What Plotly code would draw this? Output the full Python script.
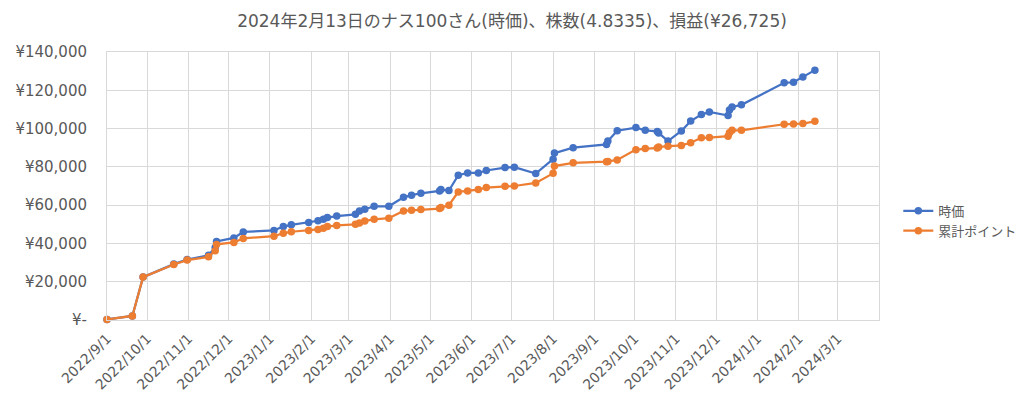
import plotly.graph_objects as go

title_text = "2024年2月13日のナス100さん(時価)、株数(4.8335)、損益(¥26,725)"

dates = [
    "2022-09-01", "2022-09-20", "2022-09-28", "2022-10-21", "2022-10-31",
    "2022-11-16", "2022-11-21", "2022-11-22", "2022-12-05", "2022-12-12",
    "2023-01-04", "2023-01-11", "2023-01-17", "2023-01-30", "2023-02-06",
    "2023-02-10", "2023-02-13", "2023-02-20", "2023-03-06", "2023-03-09",
    "2023-03-13", "2023-03-20", "2023-03-31", "2023-04-11", "2023-04-17",
    "2023-04-24", "2023-05-08", "2023-05-09", "2023-05-15", "2023-05-22",
    "2023-05-29", "2023-06-06", "2023-06-12", "2023-06-26", "2023-07-03",
    "2023-07-19", "2023-08-01", "2023-08-02", "2023-08-16", "2023-09-10",
    "2023-09-11", "2023-09-18", "2023-10-02", "2023-10-09", "2023-10-18",
    "2023-10-19", "2023-10-26", "2023-11-05", "2023-11-12", "2023-11-20",
    "2023-11-26", "2023-12-10", "2023-12-11", "2023-12-13", "2023-12-20",
    "2024-01-21", "2024-01-28", "2024-02-04", "2024-02-13",
]

jika = [
    300, 2100, 22400, 29200, 31600,
    33800, 37900, 41000, 42900, 46000,
    46800, 48800, 49700, 50900, 51850,
    52600, 53500, 54300, 55200, 57000,
    57850, 59400, 59400, 64100, 65200,
    66200, 67400, 68150, 67600, 75600,
    76800, 76800, 78100, 79600, 79800,
    76500, 84000, 87200, 90000, 91700,
    93500, 98900, 100500, 99100, 98500,
    97700, 93450, 98750, 103900, 107300,
    108700, 106800, 109700, 111300, 112400,
    123900, 124200, 126950, 130525,
]

ruikei = [
    300, 2100, 22400, 29000, 31300,
    33000, 36200, 39500, 40500, 42600,
    43800, 45300, 46100, 46800, 47300,
    47900, 48800, 49400, 50000, 50700,
    51750, 52600, 53200, 57000, 57300,
    57700, 58200, 58750, 59950, 66900,
    67400, 68150, 69200, 69900, 70000,
    71600, 76600, 80400, 82100, 82700,
    82800, 83600, 89000, 89550, 89900,
    90400, 90800, 91200, 92600, 95200,
    95300, 96050, 97800, 99100, 99100,
    102250, 102400, 102600, 103800,
]

series_names = ["時価", "累計ポイント"]
series_colors = ["#4472C4", "#ED7D31"]

x_tick_vals = [
    "2022-09-01", "2022-10-01", "2022-11-01", "2022-12-01", "2023-01-01",
    "2023-02-01", "2023-03-01", "2023-04-01", "2023-05-01", "2023-06-01",
    "2023-07-01", "2023-08-01", "2023-09-01", "2023-10-01", "2023-11-01",
    "2023-12-01", "2024-01-01", "2024-02-01", "2024-03-01",
]
x_tick_text = [
    "2022/9/1", "2022/10/1", "2022/11/1", "2022/12/1", "2023/1/1",
    "2023/2/1", "2023/3/1", "2023/4/1", "2023/5/1", "2023/6/1",
    "2023/7/1", "2023/8/1", "2023/9/1", "2023/10/1", "2023/11/1",
    "2023/12/1", "2024/1/1", "2024/2/1", "2024/3/1",
]

y_tick_vals = [0, 20000, 40000, 60000, 80000, 100000, 120000, 140000]
y_tick_text = ["¥-", "¥20,000", "¥40,000", "¥60,000", "¥80,000",
               "¥100,000", "¥120,000", "¥140,000"]

FONT = "DejaVu Sans, Noto Sans CJK JP"
TXT = "#595959"
GRID = "#D9D9D9"

fig = go.Figure()
for name, vals, col in zip(series_names, [jika, ruikei], series_colors):
    fig.add_trace(go.Scatter(
        x=dates, y=vals, name=name, mode="lines+markers",
        line=dict(color=col, width=2.25),
        marker=dict(color=col, size=7.5),
        cliponaxis=False,
    ))

fig.update_layout(
    width=1024, height=411,
    margin=dict(l=107, r=145, t=52, b=91, autoexpand=False),
    paper_bgcolor="white", plot_bgcolor="white",
    font=dict(family=FONT, color=TXT, size=13),
    title=dict(text=title_text, x=0.5, xref="container", y=0.95, yref="container",
               xanchor="center", yanchor="middle",
               font=dict(family=FONT, size=17, color=TXT)),
    legend=dict(x=1.025, y=0.37, xanchor="left", yanchor="middle",
                font=dict(family="Noto Sans CJK JP", size=13, color=TXT),
                itemwidth=30),
    showlegend=True,
)

fig.update_xaxes(
    type="date",
    range=["2022-09-01", "2024-04-01"],
    tickmode="array", tickvals=x_tick_vals, ticktext=x_tick_text,
    tickangle=-45,
    showgrid=True, gridcolor=GRID, gridwidth=1,
    showline=True, linecolor=GRID, linewidth=1, mirror=True,
    ticks="", zeroline=False,
    ticklabelstandoff=4,
    tickfont=dict(family=FONT, size=14, color=TXT),
)
fig.update_yaxes(
    range=[0, 140000],
    tickmode="array", tickvals=y_tick_vals, ticktext=y_tick_text,
    showgrid=True, gridcolor=GRID, gridwidth=1,
    showline=True, linecolor=GRID, linewidth=1, mirror=True,
    ticks="", zeroline=False,
    ticklabelstandoff=16,
    tickfont=dict(family=FONT, size=15, color=TXT),
)

fig.write_html("out.html")
